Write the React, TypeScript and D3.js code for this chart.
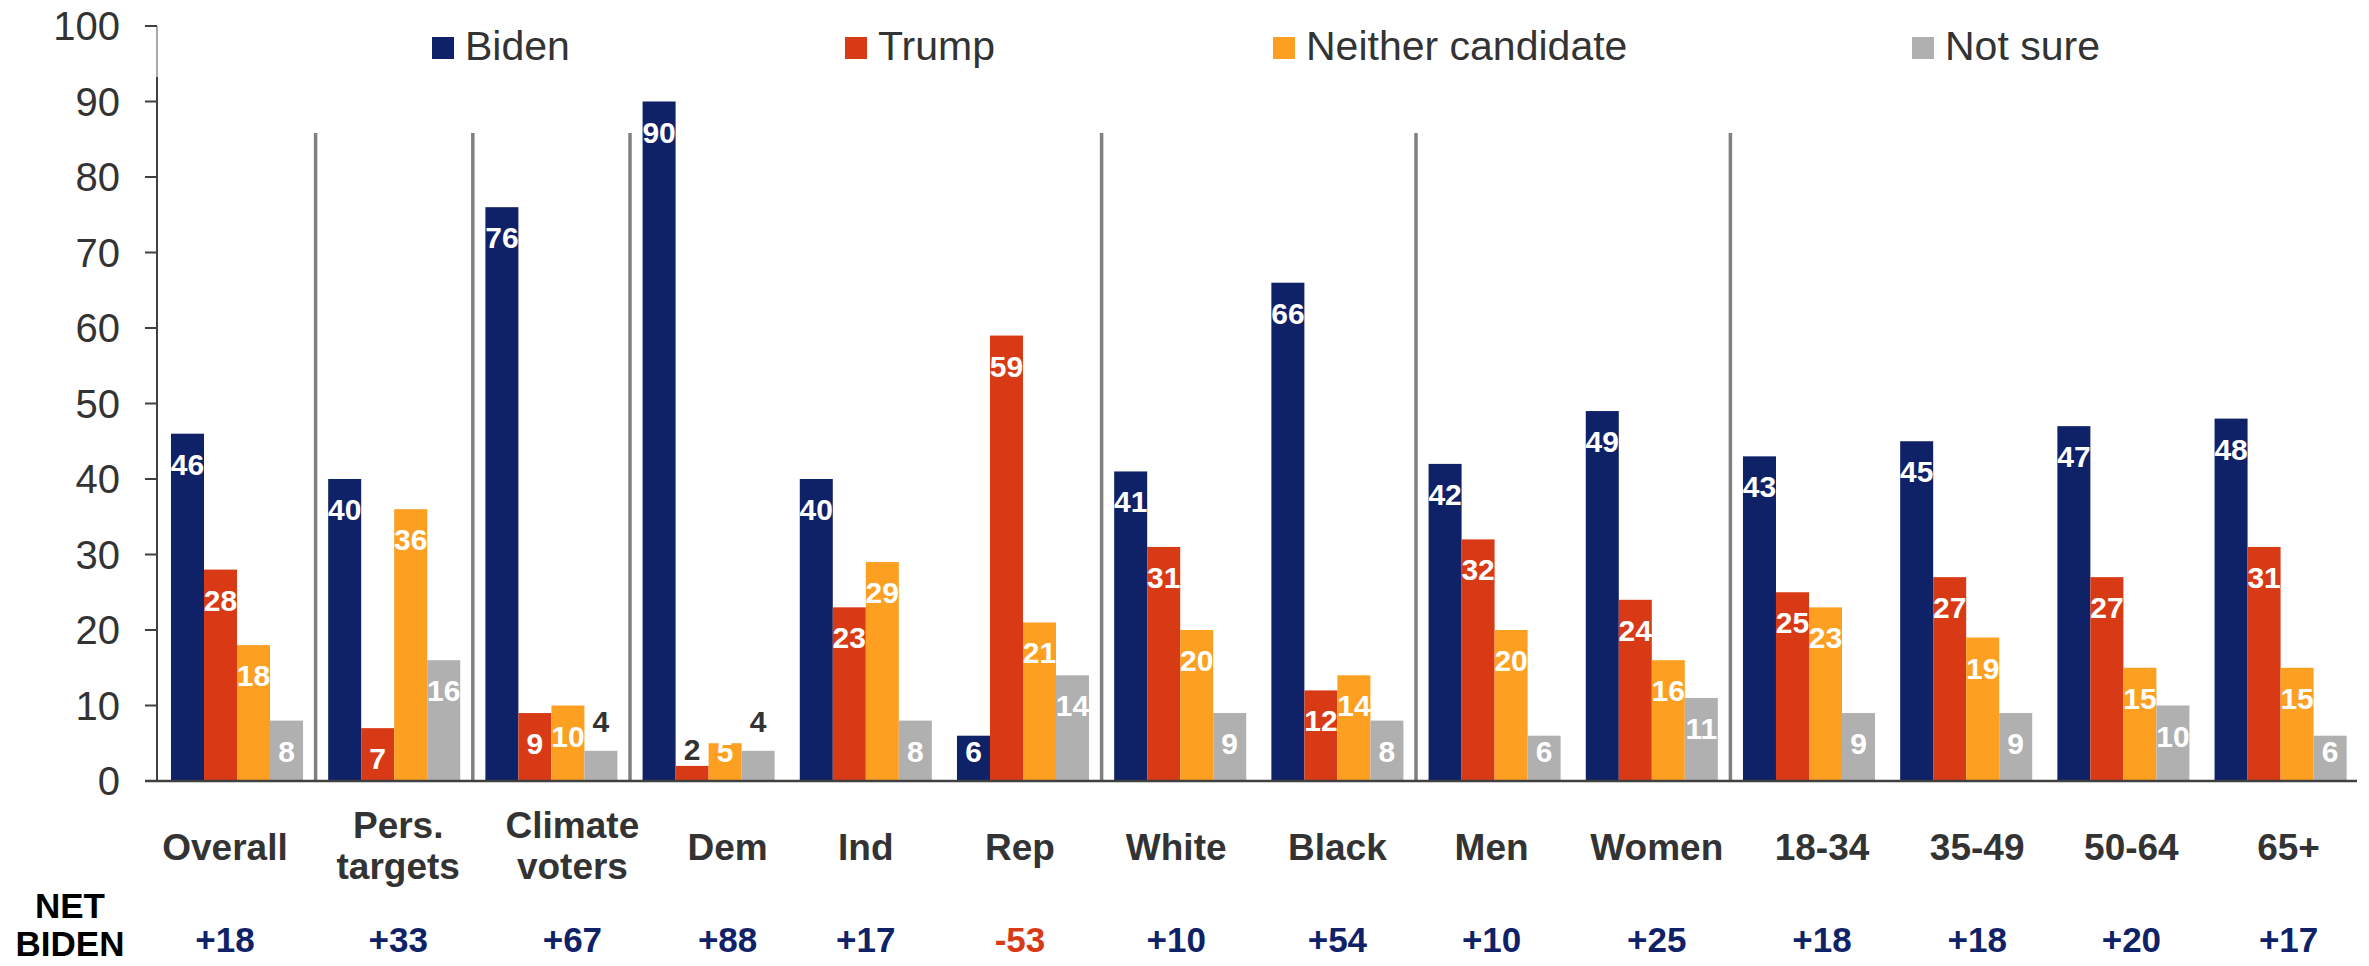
import React from "react";
import * as d3 from "d3";

const categories = ["Overall", "Pers. targets", "Climate voters", "Dem", "Ind", "Rep", "White", "Black", "Men", "Women", "18-34", "35-49", "50-64", "65+"];
const categoryLines = [["Overall"], ["Pers.", "targets"], ["Climate", "voters"], ["Dem"], ["Ind"], ["Rep"], ["White"], ["Black"], ["Men"], ["Women"], ["18-34"], ["35-49"], ["50-64"], ["65+"]];
const biden = [46, 40, 76, 90, 40, 6, 41, 66, 42, 49, 43, 45, 47, 48];
const trump = [28, 7, 9, 2, 23, 59, 31, 12, 32, 24, 25, 27, 27, 31];
const neither = [18, 36, 10, 5, 29, 21, 20, 14, 20, 16, 23, 19, 15, 15];
const notSure = [8, 16, 4, 4, 8, 14, 9, 8, 6, 11, 9, 9, 10, 6];
const netBiden = ["+18", "+33", "+67", "+88", "+17", "-53", "+10", "+54", "+10", "+25", "+18", "+18", "+20", "+17"];
const seriesNames = ["Biden", "Trump", "Neither candidate", "Not sure"];
const yTicks = [0, 10, 20, 30, 40, 50, 60, 70, 80, 90, 100];
const dividersAfter = ["Overall", "Pers. targets", "Climate voters", "Rep", "Black", "Women"];

// layout / style
const W = 2369;
const H = 966;
const COLORS = ["#0F2167", "#D93A16", "#FDA022", "#B0B0B0"];
const NET_POS = "#0F2167";
const NET_NEG = "#D93A16";
const TEXT = "#333333";
const FONT = "'Liberation Sans', Arial, Helvetica, sans-serif";
const legendX = [432, 845, 1273, 1912];
const labelNudge = [-12, 4, 21, 19, 0, -3, -4, 0, -3, 5, 13, 11, 8, 8];

export default function App() {
  const seriesValues = [biden, trump, neither, notSure];
  const y = d3.scaleLinear().domain([0, 100]).range([781, 26]);
  const x0 = d3.scaleBand<string>().domain(categories).range([157, 2360.6]).paddingInner(0.16).paddingOuter(0.089);
  const x1 = d3.scaleBand<string>().domain(seriesNames).range([0, x0.bandwidth()]).padding(0);
  const step = x0.step();
  const bw = x1.bandwidth();

  const dividerXs = dividersAfter.map((c) => {
    const end = (x0(c) as number) + x0.bandwidth();
    return end + (step - x0.bandwidth()) / 2;
  });

  return (
    <svg width={W} height={H} style={{ position: "absolute", left: 0, top: 0, display: "block", background: "#fff" }} fontFamily={FONT}>
      {/* y axis */}
      <line x1={157} x2={157} y1={y(100)} y2={77} stroke="#555" strokeWidth={1} />
      <line x1={157} x2={157} y1={77} y2={y(0)} stroke="#404040" strokeWidth={2} />
      {yTicks.map((t) => (
        <g key={t}>
          <line x1={145} x2={157} y1={y(t)} y2={y(t)} stroke="#404040" strokeWidth={2} />
          <text x={120} y={y(t)} dy="0.36em" textAnchor="end" fontSize={40} fill={TEXT}>
            {t}
          </text>
        </g>
      ))}

      {/* dividers */}
      {dividerXs.map((dx, i) => (
        <line key={i} x1={dx} x2={dx} y1={133} y2={y(0)} stroke="#808080" strokeWidth={3.5} />
      ))}

      {/* bars */}
      {categories.map((c, ci) => (
        <g key={c} transform={`translate(${x0(c)},0)`}>
          {seriesNames.map((s, si) => {
            const v = seriesValues[si][ci];
            const bx = x1(s) as number;
            const top = y(v);
            const h = y(0) - top;
            const inside = h >= 35;
            let ly: number;
            if (inside) {
              ly = top + 41;
              if (ly > y(0) - 6) ly = y(0) - 19;
            } else {
              ly = h < 20 ? top - 6 : top - 19;
            }
            return (
              <g key={s}>
                <rect x={bx} y={top} width={bw} height={h} fill={COLORS[si]} />
                <text
                  x={bx + bw / 2}
                  y={ly}
                  textAnchor="middle"
                  fontSize={30}
                  fontWeight="bold"
                  fill={inside ? "#ffffff" : TEXT}
                >
                  {v}
                </text>
              </g>
            );
          })}
        </g>
      ))}

      {/* baseline */}
      <line x1={145} x2={2357} y1={y(0)} y2={y(0)} stroke="#404040" strokeWidth={2.5} />

      {/* legend */}
      {seriesNames.map((s, i) => (
        <g key={s}>
          <rect x={legendX[i]} y={37} width={22} height={22} fill={COLORS[i]} />
          <text x={legendX[i] + 33} y={60} fontSize={41} fill={TEXT}>
            {s}
          </text>
        </g>
      ))}

      {/* category labels */}
      {categories.map((c, ci) => {
        const cx = (x0(c) as number) + x0.bandwidth() / 2 + labelNudge[ci];
        const lines = categoryLines[ci];
        const baselines = lines.length === 1 ? [860] : [838, 879];
        return (
          <g key={c}>
            {lines.map((ln, li) => (
              <text key={li} x={cx} y={baselines[li]} textAnchor="middle" fontSize={37} fontWeight="bold" fill={TEXT}>
                {ln}
              </text>
            ))}
            <text
              x={cx}
              y={952}
              textAnchor="middle"
              fontSize={35}
              fontWeight="bold"
              fill={netBiden[ci].startsWith("-") ? NET_NEG : NET_POS}
            >
              {netBiden[ci]}
            </text>
          </g>
        );
      })}

      {/* NET BIDEN row title */}
      <text x={70} y={918} textAnchor="middle" fontSize={35} fontWeight="bold" fill="#000">
        NET
      </text>
      <text x={70} y={956} textAnchor="middle" fontSize={35} fontWeight="bold" fill="#000">
        BIDEN
      </text>
    </svg>
  );
}
